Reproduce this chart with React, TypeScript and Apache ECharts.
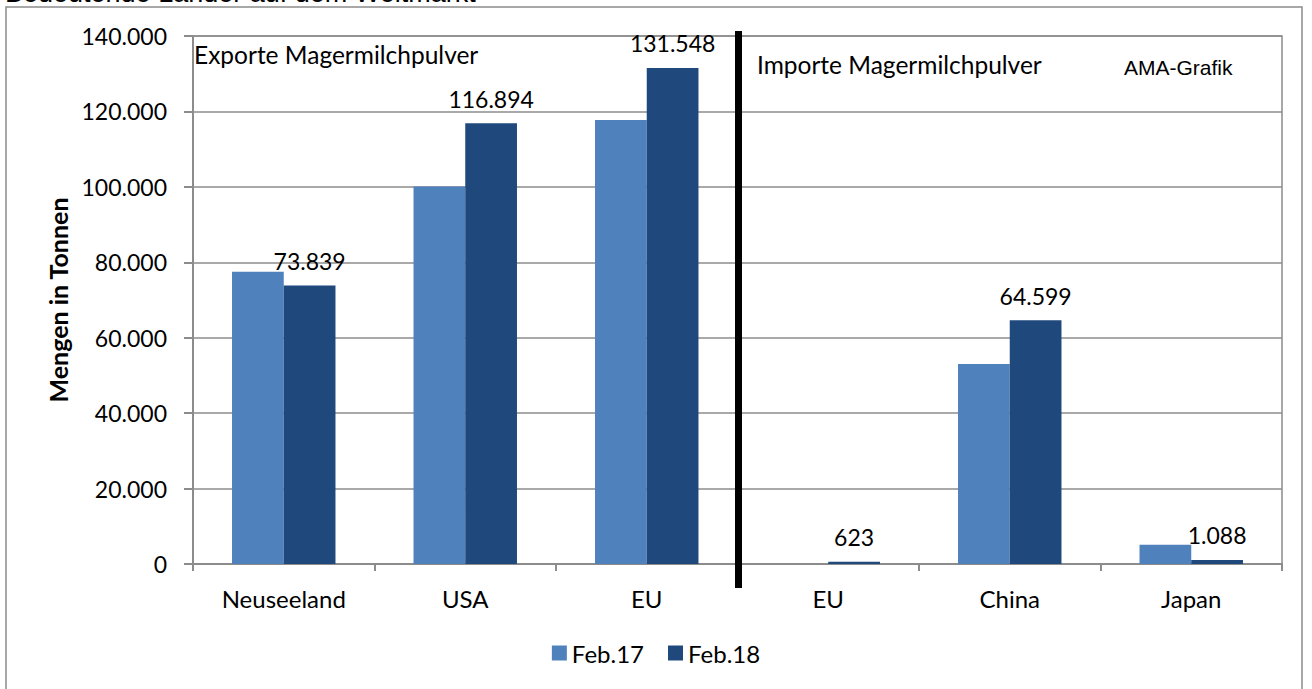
import React, { useEffect, useRef } from "react";
import * as echarts from "echarts";

const categories = ["Neuseeland", "USA", "EU", "EU", "China", "Japan"];
const seriesNames = ["Feb.17", "Feb.18"];
const feb17 = [77500, 100100, 117700, 0, 53000, 5100];
const feb18 = [73839, 116894, 131548, 623, 64599, 1088];
const yTicks = { min: 0, max: 140000, interval: 20000 };
const sectionLabels = ["Exporte Magermilchpulver", "Importe Magermilchpulver"];
const titleText = "Bedeutende Länder auf dem Weltmarkt";
const sourceText = "AMA-Grafik";
const yAxisName = "Mengen in Tonnen";

const FONT = "Lato";
const GRAY = "#8c8c8c";

function fmt(v: number): string {
  return String(Math.round(v)).replace(/\B(?=(\d{3})+(?!\d))/g, ".");
}

export default function App() {
  const ref = useRef<HTMLDivElement>(null);
  useEffect(() => {
    document.body.style.margin = "0";
    if (!ref.current) return;
    const chart = echarts.init(ref.current, null, { renderer: "svg" });
    chart.setOption({
      animation: false,
      backgroundColor: "#ffffff",
      textStyle: { fontFamily: FONT },
      grid: {
        left: 193,
        top: 36,
        right: 30,
        bottom: 125,
        show: true,
        borderColor: GRAY,
        borderWidth: 1.5,
        containLabel: false,
      },
      legend: {
        data: seriesNames,
        bottom: 19,
        left: "center",
        itemWidth: 15,
        itemHeight: 15,
        itemGap: 24,
        icon: "rect",
        textStyle: { fontFamily: FONT, fontSize: 24, color: "#000" },
      },
      xAxis: {
        type: "category",
        data: categories,
        axisLine: { lineStyle: { color: GRAY, width: 2 } },
        axisTick: { show: true, length: 7, lineStyle: { color: GRAY, width: 2 } },
        axisLabel: { color: "#000", fontSize: 24, fontFamily: FONT, margin: 22 },
      },
      yAxis: {
        type: "value",
        min: yTicks.min,
        max: yTicks.max,
        interval: yTicks.interval,
        name: yAxisName,
        nameLocation: "middle",
        nameGap: 122,
        nameTextStyle: { fontFamily: FONT, fontSize: 25, fontWeight: "bold", color: "#000" },
        axisLine: { show: true, lineStyle: { color: GRAY, width: 2 } },
        axisTick: { show: true, length: 9, lineStyle: { color: GRAY, width: 2 } },
        splitLine: { lineStyle: { color: GRAY, width: 1.5 } },
        axisLabel: {
          color: "#000",
          fontSize: 23,
          fontFamily: FONT,
          margin: 26,
          formatter: (v: number) => fmt(v),
        },
      },
      series: [
        {
          name: seriesNames[0],
          type: "bar",
          data: feb17,
          barGap: "0%",
          barCategoryGap: "43%",
          itemStyle: { color: "#4f81bd" },
        },
        {
          name: seriesNames[1],
          type: "bar",
          data: feb18,
          barGap: "0%",
          barCategoryGap: "43%",
          itemStyle: { color: "#1f497d" },
          label: {
            show: true,
            position: "top",
            distance: 13,
            color: "#000",
            fontSize: 23,
            fontFamily: FONT,
            formatter: (p: any) => fmt(p.value),
          },
        },
      ],
      graphic: [
        {
          type: "rect",
          shape: { x: 6, y: 7, width: 1296, height: 700 },
          style: { fill: "none", stroke: GRAY, lineWidth: 1.5 },
          silent: true,
          z: -1,
        },
        {
          type: "text",
          x: 5,
          y: -21,
          style: { text: titleText, fontFamily: "Liberation Sans", fontSize: 27, fill: "#000" },
        },
        {
          type: "line",
          shape: { x1: 738.5, y1: 31, x2: 738.5, y2: 588 },
          style: { stroke: "#000", lineWidth: 7 },
          z: 10,
        },
        {
          type: "text",
          x: 194,
          y: 42,
          style: { text: sectionLabels[0], fontFamily: FONT, fontSize: 24.5, fill: "#000" },
        },
        {
          type: "text",
          x: 757,
          y: 52,
          style: { text: sectionLabels[1], fontFamily: FONT, fontSize: 24.5, fill: "#000" },
        },
        {
          type: "text",
          x: 1124,
          y: 57,
          style: { text: sourceText, fontFamily: "Liberation Sans", fontSize: 21, fill: "#000" },
        },
      ],
    });
    return () => chart.dispose();
  }, []);
  return <div ref={ref} style={{ width: 1312, height: 689 }} />;
}
